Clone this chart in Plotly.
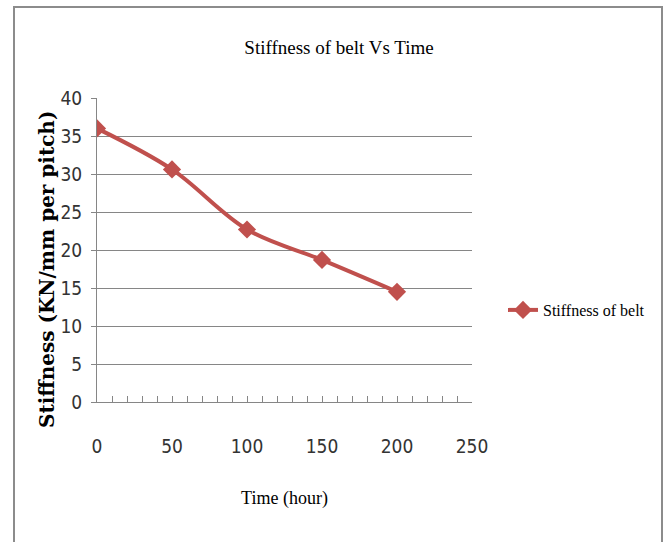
import plotly.graph_objects as go

time_hours = [0, 50, 100, 150, 200]
stiffness = [36.0, 30.6, 22.7, 18.7, 14.5]
series_name = "Stiffness of belt"
chart_title = "Stiffness of belt Vs Time"
x_title = "Time (hour)"
y_title = "Stiffness (KN/mm per pitch)"

W, H = 665, 542
L, R, T, B = 97, 193, 98, 140
pw, ph = W - L - R, H - T - B

def px_x(p):
    return (p - L) / pw

def px_y(p):
    return (H - B - p) / ph

red = "#C0504D"
grey = "#868686"
tickfont = dict(family="Liberation Sans Narrow, DejaVu Sans Condensed, Liberation Sans, Arial", size=19, color="#333333")
serif = "Liberation Serif, Times New Roman, serif"

fig = go.Figure()
fig.add_trace(go.Scatter(
    x=time_hours, y=stiffness, name=series_name, mode="lines+markers",
    line=dict(color=red, width=4, shape="spline", smoothing=1.0),
    marker=dict(symbol="diamond", size=14, color=red),
))

fig.update_layout(
    width=W, height=H,
    margin=dict(l=L, r=R, t=T, b=B, autoexpand=False),
    paper_bgcolor="white", plot_bgcolor="white",
    title=dict(text=chart_title, xref="container", x=339 / W, xanchor="center",
               yref="container", y=1 - 47 / H, yanchor="middle",
               font=dict(family=serif, size=19, color="black")),
    showlegend=True,
    legend=dict(x=px_x(503), xanchor="left", y=px_y(310), yanchor="middle",
                font=dict(family=serif, size=16, color="black"),
                bgcolor="rgba(0,0,0,0)"),
    xaxis=dict(range=[0, 250], dtick=50, tick0=0, showgrid=False, zeroline=False,
               showline=True, linecolor=grey, linewidth=1,
               ticks="inside", ticklen=6, tickcolor=grey,
               minor=dict(dtick=10, ticks="inside", ticklen=6, tickcolor=grey),
               tickfont=tickfont, ticklabelstandoff=27,
               title=dict(text=x_title, font=dict(family=serif, size=18, color="black"), standoff=35)),
    yaxis=dict(range=[0, 40], dtick=5, tick0=0, showgrid=True, gridcolor=grey, gridwidth=1,
               zeroline=False, showline=True, linecolor=grey, linewidth=1,
               ticks="outside", ticklen=5, tickcolor=grey,
               tickfont=tickfont, ticklabelstandoff=5),
    annotations=[dict(text="<b>" + y_title + "</b>", textangle=-90,
                      xref="paper", yref="paper", x=px_x(47), y=px_y(270),
                      xanchor="center", yanchor="middle", showarrow=False,
                      font=dict(family="DejaVu Serif, Liberation Serif, serif", size=20, color="black"))],
    shapes=[dict(type="rect", xref="paper", yref="paper",
                 x0=px_x(14), x1=px_x(662), y0=px_y(560), y1=px_y(7),
                 line=dict(color="#8c8c8c", width=2), fillcolor="rgba(0,0,0,0)", layer="below")],
)

fig.write_html("out.html")
